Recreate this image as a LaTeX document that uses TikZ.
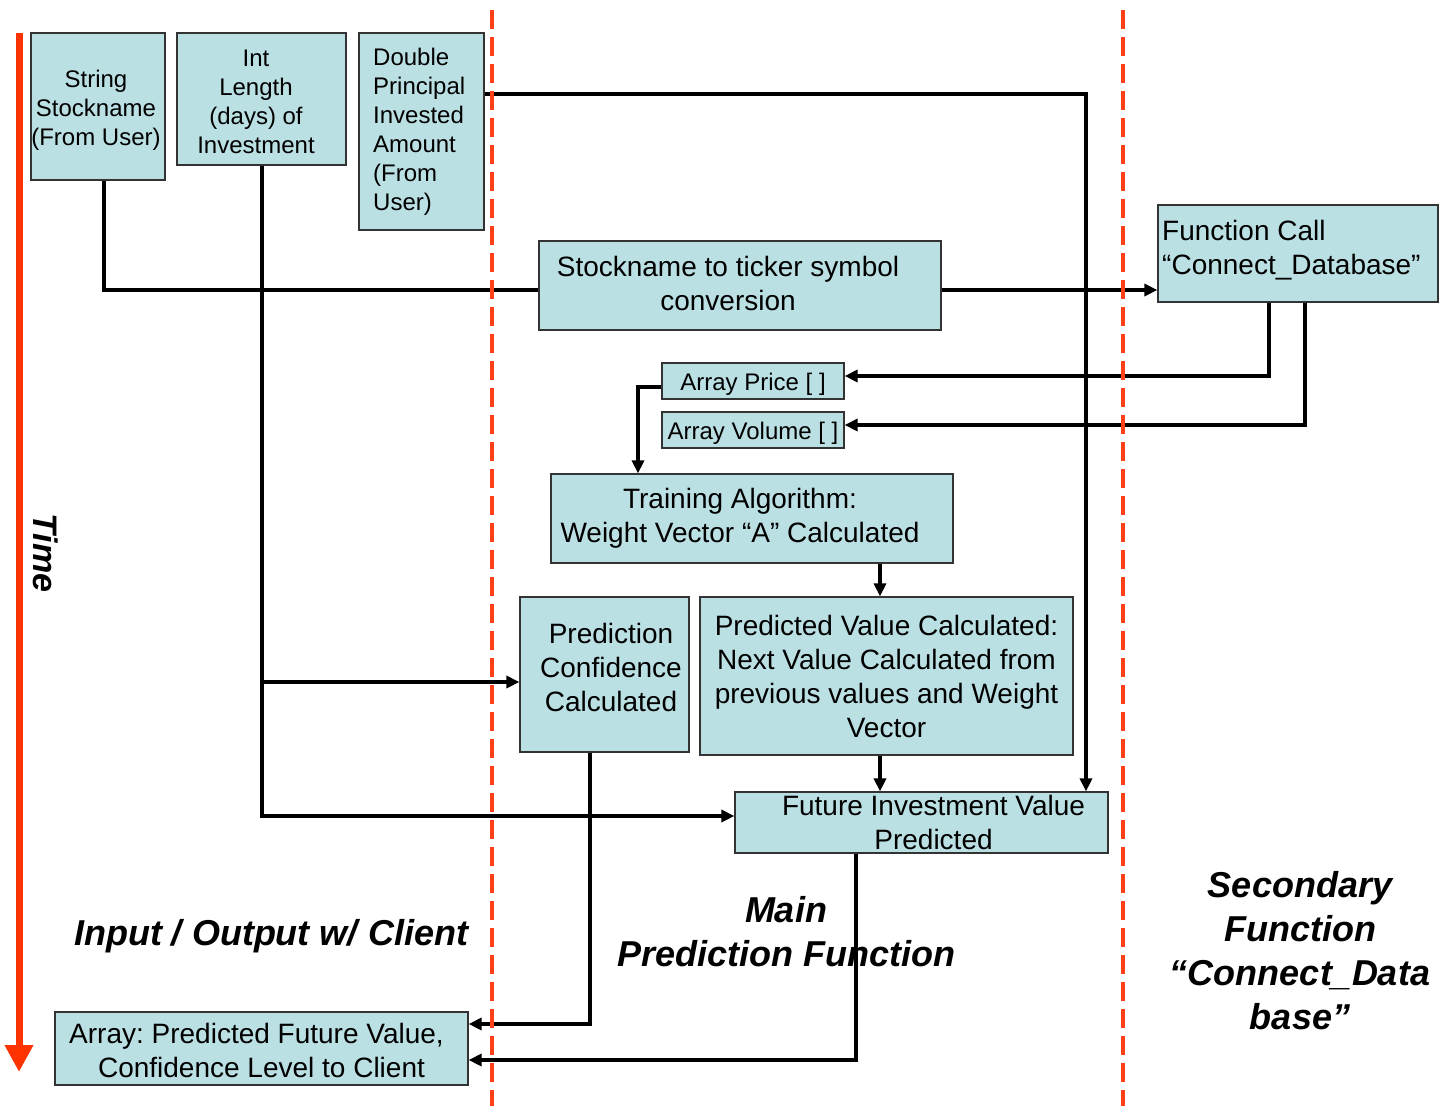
\documentclass[tikz,border=0pt]{standalone}
\usepackage{fontspec}
\setmainfont{Liberation Sans}
\usetikzlibrary{arrows.meta}
\definecolor{boxfill}{RGB}{187,224,227}
\definecolor{lanered}{RGB}{255,64,24}
\definecolor{timered}{RGB}{255,51,0}
\frenchspacing

\begin{document}
\begin{tikzpicture}[x=1pt,y=-1pt,
  box/.style={draw=black!80, line width=1.2pt, fill=boxfill, inner sep=0pt, rectangle},
  bigtxt/.style={font=\fontsize{28}{34}\selectfont, inner sep=0pt, align=center},
  smalltxt/.style={font=\fontsize{24}{29}\selectfont, inner sep=0pt, align=center},
  headtxt/.style={font=\fontsize{36}{44}\selectfont\bfseries\itshape, inner sep=0pt, align=center},
  conn/.style={line width=3.5pt, draw=black},
  arr/.style={conn, -{Triangle[length=13pt,width=12pt]}},
  lane/.style={line width=3.5pt, draw=lanered, dash pattern=on 19pt off 8pt},
]
\useasboundingbox (0,0) rectangle (1448,1106);

% time axis
\draw[line width=7pt, timered, -{Triangle[length=27pt,width=27pt]}] (19,33) -- (19,1072);
\node[font=\fontsize{34}{40}\selectfont\bfseries\itshape, rotate=-90, inner sep=0pt] (time) at (46,553) {Time};

% lane headings
\node[headtxt] (io) at (271,936) {Input / Output w/ Client};
\node[headtxt] (main) at (786,932) {Main\\Prediction Function};
\node[headtxt] (sec) at (1300,951) {Secondary\\Function\\“Connect\_Data\\base”};

% boxes
\node[box, minimum width=134pt, minimum height=147pt] (s) at (98,106.5) {};
\node[box, minimum width=169pt, minimum height=132pt] (i) at (261.5,99) {};
\node[box, minimum width=125pt, minimum height=197pt] (d) at (421.5,131.5) {};
\node[box, minimum width=402pt, minimum height=89pt] (conv) at (740,285.5) {};
\node[box, minimum width=280pt, minimum height=97pt] (fc) at (1298,253.5) {};
\node[box, minimum width=182pt, minimum height=36pt] (ap) at (753,381) {};
\node[box, minimum width=182pt, minimum height=36pt] (av) at (753,430) {};
\node[box, minimum width=402pt, minimum height=89pt] (ta) at (752,518.5) {};
\node[box, minimum width=169pt, minimum height=155pt] (pc) at (604.5,674.5) {};
\node[box, minimum width=373pt, minimum height=158pt] (pv) at (886.5,676) {};
\node[box, minimum width=373pt, minimum height=61pt] (fi) at (921.5,822.5) {};
\node[box, minimum width=413pt, minimum height=73pt] (out) at (261.5,1048.5) {};

% box texts
\node[smalltxt] (s-t) at (96,110) {String\\Stockname\\(From User)};
\node[smalltxt] (i-t) at (256,102) {Int\\Length\\(days) of\\Investment};
\node[smalltxt, align=left, anchor=west] (d-t) at (373,132) {Double\\Principal\\Invested\\Amount\\(From\\User)};
\node[bigtxt] (conv-t) at (728,283) {Stockname to ticker symbol\\conversion};
\node[bigtxt, align=left, anchor=west] (fc-t) at (1162,250) {Function Call\\“Connect\_Database”};
\node[smalltxt] (ap-t) at (753,384) {Array Price [ ]};
\node[smalltxt] (av-t) at (753,433) {Array Volume [ ]};
\node[bigtxt] (ta-t) at (740,518) {Training Algorithm:\\Weight Vector “A” Calculated};
\node[bigtxt] (pc-t) at (611,667) {Prediction\\Confidence\\Calculated};
\node[bigtxt] (pv-t) at (886.5,676) {Predicted Value Calculated:\\Next Value Calculated from\\previous values and Weight\\Vector};
\node[bigtxt] (fi-t) at (933.5,822) {Future Investment Value\\Predicted};
\node[bigtxt] (out-t) at (261.5,1050) {Array: Predicted Future Value,\kern10pt\\Confidence Level to Client};

% connector end points
\coordinate (pcin) at ([yshift=-7.5pt]pc.west);
\coordinate (tab) at ([xshift=128pt]ta.south);
\coordinate (pvb) at ([xshift=-6.5pt]pv.south);

% connectors
\draw[arr] ([yshift=37.5pt]d.east) -| ([xshift=164.5pt]fi.north);
\draw[conn] ([xshift=6pt]s.south) |- ([yshift=-4.5pt]conv.west);
\draw[arr] ([yshift=-4.5pt]conv.east) -- ([yshift=-4.5pt]conv.east -| fc.west);
\draw[arr] ([xshift=0.5pt]i.south) |- ([yshift=6.5pt]fi.west);
\draw[arr] (pcin -| i.south) -- (pcin);
\draw[arr] ([xshift=-29pt]fc.south) |- ([yshift=5pt]ap.east);
\draw[arr] ([xshift=7pt]fc.south) |- ([yshift=5pt]av.east);
\draw[arr] ([yshift=-6pt]ap.west) -| ([xshift=-114pt]ta.north);
\draw[arr] (tab) -- (tab |- pv.north);
\draw[arr] (pvb) -- (pvb |- fi.north);
\draw[arr] ([xshift=-14.5pt]pc.south) |- ([yshift=24.5pt]out.east);
\draw[arr] ([xshift=-65.5pt]fi.south) |- ([yshift=-11.5pt]out.east);

% lane separators
\draw[lane] (492,10) -- (492,1106);
\draw[lane] (1123,10) -- (1123,1106);
\end{tikzpicture}
\end{document}
